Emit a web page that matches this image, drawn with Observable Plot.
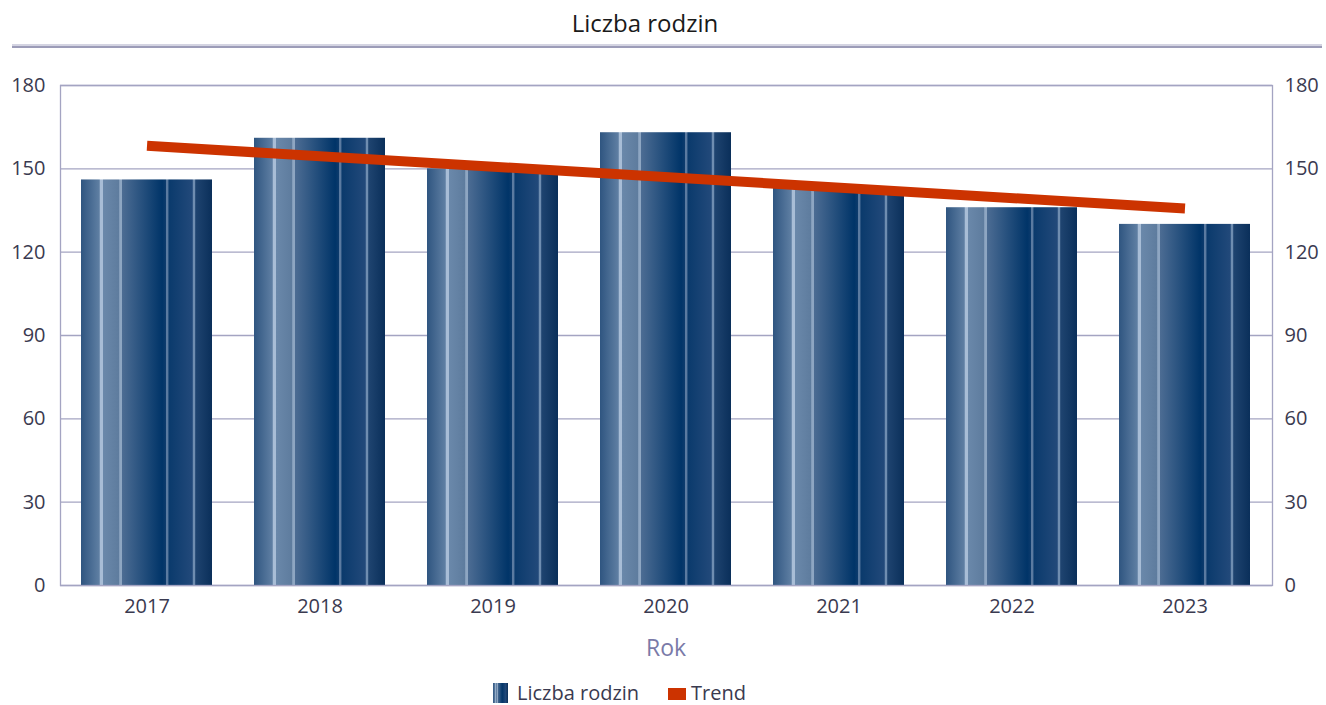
<!DOCTYPE html>
<html>
<head>
<meta charset="utf-8">
<script src="https://cdn.jsdelivr.net/npm/d3@7"></script>
<script src="https://cdn.jsdelivr.net/npm/@observablehq/plot@0.6"></script>
<style>
  html, body { margin: 0; padding: 0; background: #fff; }
  #wrap { position: relative; width: 1326px; height: 705px; font-family: "Open Sans", sans-serif; color: #3a3a50; }
  #title { position: absolute; left: 0; width: 1290px; top: 6px; text-align: center; font-size: 24px; color: #1a1a1a; }
  #rule1 { position: absolute; left: 12px; width: 1310px; top: 44px; height: 2px; background: #d4d4e2; }
  #rule2 { position: absolute; left: 12px; width: 1310px; top: 46px; height: 2px; background: #9c9cb8; }
  #xlabel { position: absolute; left: 60px; width: 1212px; top: 631px; text-align: center; font-size: 23px; color: #7a7aa8; }
  .lg { position: absolute; font-size: 20px; color: #3a3a50; line-height: 24px; }
  #chart { position: absolute; left: 0; top: 0; }
</style>
</head>
<body>
<div id="wrap">
  <div id="title">Liczba rodzin</div>
  <div id="rule1"></div><div id="rule2"></div>
  <div id="chart"></div>
  <div id="xlabel">Rok</div>
  <svg class="lg sw1" style="left:493px; top:683px" width="15" height="20"><rect width="15" height="20" fill="url(#barGradLegend)"/></svg>
  <div class="lg" style="left:517px; top:681px">Liczba rodzin</div>
  <div class="lg" style="left:668px; top:688px; width:18px; height:12px; background:#cc3300"></div>
  <div class="lg" style="left:691px; top:681px">Trend</div>
</div>
<script>
const years = ["2017", "2018", "2019", "2020", "2021", "2022", "2023"];
const families = [146, 161, 150, 163, 143, 136, 130];
const trendYears = ["2017", "2023"];
const trendValues = [158.3, 135.7];
const yTicks = [0, 30, 60, 90, 120, 150, 180];

const bars = years.map((y, i) => ({year: y, value: families[i]}));
const trend = trendYears.map((y, i) => ({year: y, value: trendValues[i]}));

const gradStops = [
  [0, "#2f5580"], [0.14, "#5f7fa3"], [0.145, "#a8bdd6"], [0.165, "#a8bdd6"], [0.17, "#6a88aa"],
  [0.29, "#5e7c9e"], [0.295, "#8ea6c2"], [0.31, "#8ea6c2"], [0.315, "#4c6c93"],
  [0.62, "#003468"], [0.645, "#0b3a6c"], [0.65, "#5a7aa0"], [0.665, "#5a7aa0"], [0.67, "#0a3a6c"],
  [0.85, "#22497a"], [0.855, "#6f8db0"], [0.87, "#6f8db0"], [0.875, "#1f4470"], [1, "#0a2f5a"]
];

const chart = Plot.plot({
  width: 1326,
  height: 705,
  marginTop: 85,
  marginBottom: 120,
  marginLeft: 60,
  marginRight: 54,
  style: {fontFamily: "Open Sans, sans-serif", fontSize: "20px", color: "#3a3a50", background: "transparent"},
  x: {domain: years, paddingInner: 0.24, paddingOuter: 0.12, label: null},
  y: {domain: [0, 180], label: null},
  marks: [
    Plot.ruleY(yTicks, {stroke: "#a4a4c2", strokeWidth: 1.3}),
    Plot.barY(bars, {x: "year", y: "value", fill: "url(#barGrad)"}),
    Plot.line(trend, {x: "year", y: "value", stroke: "#cc3300", strokeWidth: 10, strokeLinecap: "butt"}),
    Plot.frame({stroke: "#a4a4c2", strokeWidth: 1.3}),
    Plot.axisY(yTicks, {anchor: "left", tickSize: 0, tickPadding: 15, label: null, fill: "#3a3a50"}),
    Plot.axisY(yTicks, {anchor: "right", tickSize: 0, tickPadding: 12, label: null, fill: "#3a3a50"}),
    Plot.axisX({tickSize: 0, tickPadding: 13, label: null, fill: "#3a3a50"})
  ]
});

function addGrad(svgSel, id) {
  let defs = svgSel.select("defs");
  if (defs.empty()) defs = svgSel.insert("defs", ":first-child");
  const g = defs.append("linearGradient").attr("id", id).attr("x1", "0").attr("x2", "1").attr("y1", "0").attr("y2", "0");
  gradStops.forEach(([o, c]) => g.append("stop").attr("offset", o).attr("stop-color", c));
}
addGrad(d3.select(chart), "barGrad");
addGrad(d3.select(document.querySelector(".sw1")), "barGradLegend");
document.getElementById("chart").appendChild(chart);
</script>
</body>
</html>
